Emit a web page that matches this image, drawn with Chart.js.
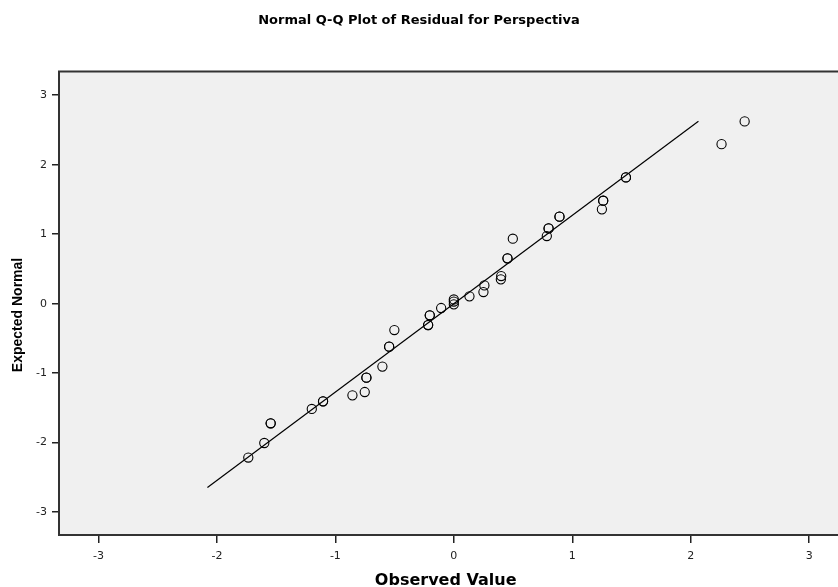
<!DOCTYPE html>
<html>
<head>
<meta charset="utf-8">
<script src="https://cdn.jsdelivr.net/npm/chart.js@4/dist/chart.umd.min.js"></script>
<style>
  html, body { margin: 0; padding: 0; background: #fff; overflow: hidden; }
  #qq { display: block; }
</style>
</head>
<body>
<canvas id="qq" width="838" height="587"></canvas>
<script>
// 观测值 / 期望正态值 (重叠的点重复列出, 显示为粗圈)
var observed = [-1.735, -1.600, -1.546, -1.546, -1.199, -1.104, -1.104, -0.856, -0.752, -0.738, -0.738,
                -0.603, -0.546, -0.546, -0.502, -0.217, -0.217, -0.203, -0.203, -0.107, 0.000, 0.000, 0.000,
                0.132, 0.250, 0.258, 0.397, 0.400, 0.453, 0.453, 0.498, 0.785, 0.800, 0.800, 0.892, 0.892,
                1.250, 1.261, 1.261, 1.453, 1.453, 2.260, 2.455];
var expected = [-2.215, -2.006, -1.722, -1.722, -1.516, -1.406, -1.406, -1.320, -1.272, -1.065, -1.065,
                -0.906, -0.619, -0.619, -0.380, -0.308, -0.308, -0.168, -0.168, -0.063, -0.010, 0.030, 0.060,
                0.105, 0.167, 0.263, 0.350, 0.397, 0.652, 0.652, 0.935, 0.973, 1.083, 1.083, 1.252, 1.252,
                1.357, 1.482, 1.482, 1.817, 1.817, 2.296, 2.623];

// 参考线端点
var lineX = [-2.08, 2.065];
var lineY = [-2.645, 2.625];

var xTicks = [-3, -2, -1, 0, 1, 2, 3];
var yTicks = [-3, -2, -1, 0, 1, 2, 3];

var FONT = "'DejaVu Sans', Verdana, sans-serif";
var FONT_NARROW = "'Liberation Sans', Arial, sans-serif";

function toPoints(xs, ys) {
  var out = [];
  for (var i = 0; i < xs.length; i++) out.push({ x: xs[i], y: ys[i] });
  return out;
}

// 灰色绘图区 + 边框 (右侧延伸到画布边缘)
var framePlugin = {
  id: 'frame',
  beforeDatasetsDraw: function(chart) {
    var a = chart.chartArea;
    var ctx = chart.ctx;
    ctx.save();
    ctx.fillStyle = '#f0f0f0';
    ctx.fillRect(a.left, a.top, chart.width - a.left, a.bottom - a.top);
    ctx.strokeStyle = '#333';
    ctx.lineWidth = 2;
    ctx.beginPath();
    ctx.moveTo(chart.width, a.bottom);
    ctx.lineTo(a.left, a.bottom);
    ctx.lineTo(a.left, a.top);
    ctx.lineTo(chart.width, a.top);
    ctx.stroke();
    ctx.restore();
  }
};

new Chart(document.getElementById('qq'), {
  type: 'scatter',
  data: {
    datasets: [
      {
        label: 'Residual',
        data: toPoints(observed, expected),
        pointStyle: 'circle',
        pointRadius: 4.6,
        pointBorderWidth: 1.1,
        borderColor: '#000',
        backgroundColor: 'rgba(0,0,0,0)',
        order: 1
      },
      {
        type: 'line',
        label: 'Normal',
        data: toPoints(lineX, lineY),
        borderColor: '#000',
        borderWidth: 1.2,
        pointRadius: 0,
        fill: false,
        order: 2
      }
    ]
  },
  options: {
    responsive: false,
    animation: false,
    layout: { padding: 0 },
    plugins: {
      legend: { display: false },
      tooltip: { enabled: false },
      title: {
        display: true,
        text: 'Normal Q-Q Plot of Residual for Perspectiva',
        color: '#000',
        font: { family: FONT, size: 13, weight: 'bold' },
        padding: { top: 13, bottom: 43 }
      }
    },
    scales: {
      x: {
        type: 'linear',
        min: -3.333,
        max: 3.195,
        afterBuildTicks: function(axis) { axis.ticks = xTicks.map(function(v) { return { value: v }; }); },
        afterFit: function(scale) { scale.height = 52; scale.paddingLeft = 0; scale.paddingRight = 0; },
        ticks: { color: '#222', font: { family: FONT, size: 11 }, padding: 7 },
        grid: { drawOnChartArea: false, drawTicks: true, tickLength: 8, color: '#222', lineWidth: 1.5 },
        border: { display: false },
        title: {
          display: true,
          text: 'Observed Value',
          color: '#000',
          font: { family: FONT, size: 16, weight: 'bold', lineHeight: 0.9 },
          padding: { top: 0, bottom: -1 }
        }
      },
      y: {
        type: 'linear',
        min: -3.33,
        max: 3.34,
        afterBuildTicks: function(axis) { axis.ticks = yTicks.map(function(v) { return { value: v }; }); },
        afterFit: function(scale) { scale.width = 59; scale.paddingTop = 0; scale.paddingBottom = 0; },
        ticks: { color: '#222', font: { family: FONT, size: 11 }, padding: 5 },
        grid: { drawOnChartArea: false, drawTicks: true, tickLength: 7, color: '#222', lineWidth: 1.5 },
        border: { display: false },
        title: {
          display: true,
          text: 'Expected Normal      ',
          color: '#000',
          font: { family: FONT_NARROW, size: 14, weight: 'bold' },
          padding: { top: 10, bottom: 0 }
        }
      }
    }
  },
  plugins: [framePlugin]
});
</script>
</body>
</html>
